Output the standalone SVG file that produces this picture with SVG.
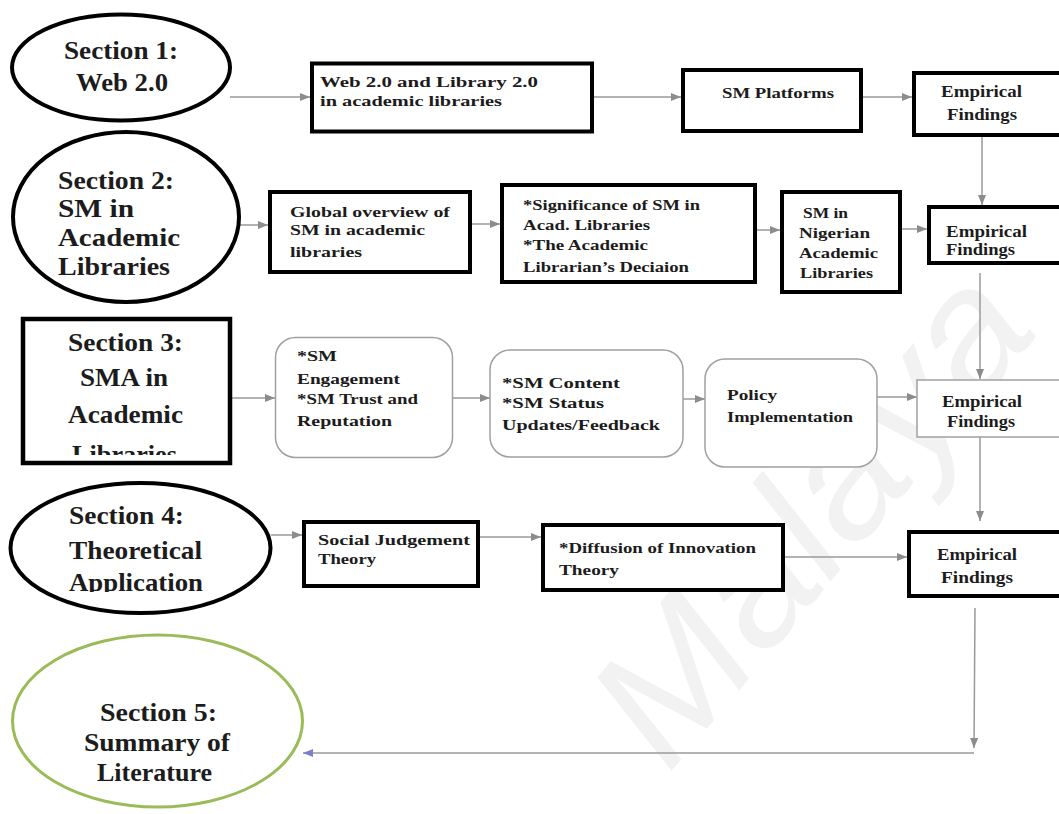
<svg xmlns="http://www.w3.org/2000/svg" width="1059" height="814" viewBox="0 0 1059 814">
<defs>
<style>
.t{font-family:"Liberation Serif","Times New Roman",serif;font-weight:bold;fill:#1c1c1c}
.h{font-size:25px}
.b{font-size:15px}
.e{font-size:16px}
.box{fill:#fff;stroke:#000;stroke-width:4}
.rbox{fill:#fff;stroke:#a0a0a0;stroke-width:1.5}
.ell{fill:#fff;stroke:#000;stroke-width:4}
.conn{fill:none;stroke:#9a9a9a;stroke-width:1.5}
.wm{font-family:"Liberation Sans",Arial,sans-serif;font-style:italic;font-size:170px;fill:#f2f2f2}
</style>
<marker id="ar" markerUnits="userSpaceOnUse" markerWidth="10" markerHeight="8" refX="10" refY="4" orient="auto">
<path d="M0,0 L10,4 L0,8 z" fill="#8c8c8c"/>
</marker>
<marker id="arb" markerUnits="userSpaceOnUse" markerWidth="10" markerHeight="8" refX="10" refY="4" orient="auto">
<path d="M0,0 L10,4 L0,8 z" fill="#7b80c8"/>
</marker>
<clipPath id="c3"><rect x="0" y="300" width="300" height="155"/></clipPath>
<clipPath id="c4"><rect x="0" y="480" width="300" height="112"/></clipPath>
</defs>
<rect width="1059" height="814" fill="#fff"/>
<text class="wm" transform="translate(668,775) rotate(-50)" textLength="580" lengthAdjust="spacingAndGlyphs">Malaya</text>

<g id="connectors">
<line class="conn" x1="230" y1="97" x2="310" y2="97" marker-end="url(#ar)"/>
<line class="conn" x1="594" y1="97" x2="681" y2="97" marker-end="url(#ar)"/>
<line class="conn" x1="863" y1="97" x2="912" y2="97" marker-end="url(#ar)"/>
<line class="conn" x1="982" y1="137" x2="982" y2="205" marker-end="url(#ar)"/>
<line class="conn" x1="240" y1="225" x2="268" y2="225" marker-end="url(#ar)"/>
<line class="conn" x1="470" y1="224" x2="500" y2="224" marker-end="url(#ar)"/>
<line class="conn" x1="757" y1="230" x2="780" y2="230" marker-end="url(#ar)"/>
<line class="conn" x1="902" y1="229" x2="927" y2="229" marker-end="url(#ar)"/>
<line class="conn" x1="980" y1="273" x2="980" y2="379" marker-end="url(#ar)"/>
<line class="conn" x1="232" y1="398" x2="275" y2="398" marker-end="url(#ar)"/>
<line class="conn" x1="453" y1="398" x2="490" y2="398" marker-end="url(#ar)"/>
<line class="conn" x1="683" y1="399" x2="705" y2="399" marker-end="url(#ar)"/>
<line class="conn" x1="877" y1="397" x2="917" y2="397" marker-end="url(#ar)"/>
<line class="conn" x1="980" y1="437" x2="980" y2="521" marker-end="url(#ar)"/>
<line class="conn" x1="271" y1="535" x2="302" y2="535" marker-end="url(#ar)"/>
<line class="conn" x1="480" y1="537" x2="541" y2="537" marker-end="url(#ar)"/>
<line class="conn" x1="785" y1="557" x2="907" y2="557" marker-end="url(#ar)"/>
<line class="conn" x1="975" y1="608" x2="974" y2="748" marker-end="url(#ar)"/>
<line class="conn" x1="974" y1="753" x2="303" y2="753" marker-end="url(#arb)"/>
</g>

<g id="sec1">
<ellipse class="ell" cx="121" cy="67.5" rx="109" ry="53"/>
<text class="t h" x="64" y="59" textLength="114" lengthAdjust="spacingAndGlyphs">Section 1:</text>
<text class="t h" x="76" y="91" textLength="92" lengthAdjust="spacingAndGlyphs">Web 2.0</text>
</g>
<g id="web2lib2">
<rect class="box" x="312" y="63.5" width="280" height="68"/>
<text class="t b" x="320" y="87" textLength="218" lengthAdjust="spacingAndGlyphs">Web 2.0 and Library 2.0</text>
<text class="t b" x="320" y="106" textLength="182" lengthAdjust="spacingAndGlyphs">in academic libraries</text>
</g>
<g id="smplatforms">
<rect class="box" x="683" y="70" width="178" height="61"/>
<text class="t b" x="722" y="98" textLength="112" lengthAdjust="spacingAndGlyphs">SM Platforms</text>
</g>
<g id="emp1">
<rect class="box" x="914" y="73" width="160" height="62"/>
<text class="t e" x="941" y="97" textLength="81" lengthAdjust="spacingAndGlyphs">Empirical</text>
<text class="t e" x="947" y="120" textLength="70" lengthAdjust="spacingAndGlyphs">Findings</text>
</g>

<g id="sec2">
<ellipse class="ell" cx="126" cy="217" rx="113" ry="85"/>
<text class="t h" x="58" y="189" textLength="116" lengthAdjust="spacingAndGlyphs">Section 2:</text>
<text class="t h" x="58" y="217" textLength="76" lengthAdjust="spacingAndGlyphs">SM in</text>
<text class="t h" x="58" y="246" textLength="122" lengthAdjust="spacingAndGlyphs">Academic</text>
<text class="t h" x="58" y="275" textLength="112" lengthAdjust="spacingAndGlyphs">Libraries</text>
</g>
<g id="global">
<rect class="box" x="270" y="192" width="200" height="80"/>
<text class="t b" x="290" y="217" textLength="160" lengthAdjust="spacingAndGlyphs">Global overview of</text>
<text class="t b" x="290" y="235" textLength="135" lengthAdjust="spacingAndGlyphs">SM in academic</text>
<text class="t b" x="290" y="257" textLength="72" lengthAdjust="spacingAndGlyphs">libraries</text>
</g>
<g id="significance">
<rect class="box" x="502" y="185" width="253" height="97"/>
<text class="t b" x="523" y="210" textLength="177" lengthAdjust="spacingAndGlyphs">*Significance of SM in</text>
<text class="t b" x="523" y="230" textLength="127" lengthAdjust="spacingAndGlyphs">Acad. Libraries</text>
<text class="t b" x="523" y="250" textLength="125" lengthAdjust="spacingAndGlyphs">*The Academic</text>
<text class="t b" x="523" y="272" textLength="166" lengthAdjust="spacingAndGlyphs">Librarian’s Deciaion</text>
</g>
<g id="nigerian">
<rect class="box" x="782" y="192" width="118" height="100"/>
<text class="t b" x="803" y="218" textLength="45" lengthAdjust="spacingAndGlyphs">SM in</text>
<text class="t b" x="799" y="238" textLength="71" lengthAdjust="spacingAndGlyphs">Nigerian</text>
<text class="t b" x="799" y="258" textLength="79" lengthAdjust="spacingAndGlyphs">Academic</text>
<text class="t b" x="800" y="278" textLength="73" lengthAdjust="spacingAndGlyphs">Libraries</text>
</g>
<g id="emp2">
<rect class="box" x="929" y="207" width="150" height="56"/>
<text class="t e" x="946" y="237" textLength="81" lengthAdjust="spacingAndGlyphs">Empirical</text>
<text class="t e" x="946" y="255" textLength="69" lengthAdjust="spacingAndGlyphs">Findings</text>
</g>

<g id="sec3">
<rect class="box" x="23" y="319" width="207" height="144" style="stroke-width:4.5"/>
<text class="t h" x="68" y="351" textLength="115" lengthAdjust="spacingAndGlyphs">Section 3:</text>
<text class="t h" x="80" y="386" textLength="88" lengthAdjust="spacingAndGlyphs">SMA in</text>
<text class="t h" x="68" y="423" textLength="115" lengthAdjust="spacingAndGlyphs">Academic</text>
<text class="t h" x="72" y="463" textLength="105" lengthAdjust="spacingAndGlyphs" clip-path="url(#c3)">Libraries</text>
</g>
<g id="engagement">
<rect class="rbox" x="275.5" y="337.5" width="177" height="120" rx="20"/>
<text class="t b" x="297" y="361" textLength="40" lengthAdjust="spacingAndGlyphs">*SM</text>
<text class="t b" x="297" y="384" textLength="103" lengthAdjust="spacingAndGlyphs">Engagement</text>
<text class="t b" x="297" y="404" textLength="121" lengthAdjust="spacingAndGlyphs">*SM Trust and</text>
<text class="t b" x="297" y="426" textLength="95" lengthAdjust="spacingAndGlyphs">Reputation</text>
</g>
<g id="content">
<rect class="rbox" x="490" y="350" width="193" height="107" rx="20"/>
<text class="t b" x="502" y="388" textLength="118" lengthAdjust="spacingAndGlyphs">*SM Content</text>
<text class="t b" x="502" y="408" textLength="102" lengthAdjust="spacingAndGlyphs">*SM Status</text>
<text class="t b" x="502" y="430" textLength="158" lengthAdjust="spacingAndGlyphs">Updates/Feedback</text>
</g>
<g id="policy">
<rect class="rbox" x="705" y="359" width="172" height="108" rx="20"/>
<text class="t b" x="727" y="400" textLength="50" lengthAdjust="spacingAndGlyphs">Policy</text>
<text class="t b" x="727" y="422" textLength="126" lengthAdjust="spacingAndGlyphs">Implementation</text>
</g>
<g id="emp3">
<rect class="rbox" x="917" y="380" width="160" height="57"/>
<text class="t e" x="942" y="407" textLength="80" lengthAdjust="spacingAndGlyphs">Empirical</text>
<text class="t e" x="947" y="427" textLength="68" lengthAdjust="spacingAndGlyphs">Findings</text>
</g>

<g id="sec4">
<ellipse class="ell" cx="140.5" cy="548" rx="130" ry="65"/>
<text class="t h" x="69" y="524" textLength="115" lengthAdjust="spacingAndGlyphs">Section 4:</text>
<text class="t h" x="69" y="559" textLength="133" lengthAdjust="spacingAndGlyphs">Theoretical</text>
<text class="t h" x="69" y="591" textLength="134" lengthAdjust="spacingAndGlyphs" clip-path="url(#c4)">Application</text>
</g>
<g id="sjt">
<rect class="box" x="304" y="522" width="174" height="64"/>
<text class="t b" x="318" y="545" textLength="152" lengthAdjust="spacingAndGlyphs">Social Judgement</text>
<text class="t b" x="318" y="564" textLength="58" lengthAdjust="spacingAndGlyphs">Theory</text>
</g>
<g id="doi">
<rect class="box" x="543" y="525" width="240" height="65"/>
<text class="t b" x="559" y="553" textLength="197" lengthAdjust="spacingAndGlyphs">*Diffusion of Innovation</text>
<text class="t b" x="559" y="575" textLength="60" lengthAdjust="spacingAndGlyphs">Theory</text>
</g>
<g id="emp4">
<rect class="box" x="909" y="532" width="170" height="64"/>
<text class="t e" x="937" y="560" textLength="80" lengthAdjust="spacingAndGlyphs">Empirical</text>
<text class="t e" x="941" y="583" textLength="72" lengthAdjust="spacingAndGlyphs">Findings</text>
</g>

<g id="sec5">
<ellipse cx="157.5" cy="721" rx="145" ry="86" fill="#fff" stroke="#9bbb59" stroke-width="3"/>
<text class="t h" x="100" y="721" textLength="117" lengthAdjust="spacingAndGlyphs">Section 5:</text>
<text class="t h" x="84" y="751" textLength="146" lengthAdjust="spacingAndGlyphs">Summary of</text>
<text class="t h" x="97" y="781" textLength="115" lengthAdjust="spacingAndGlyphs">Literature</text>
</g>
</svg>
